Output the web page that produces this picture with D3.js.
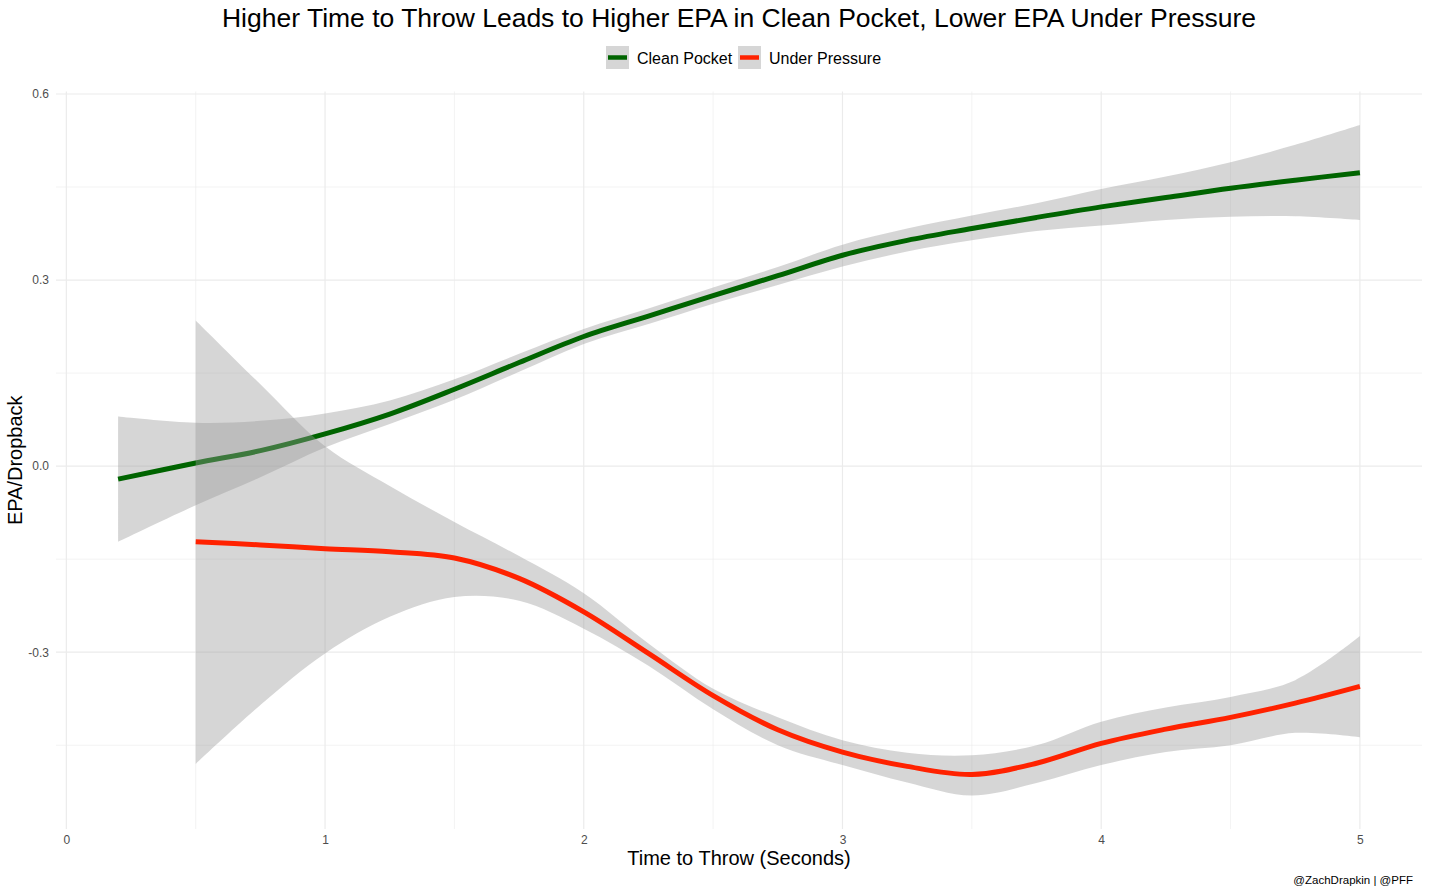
<!DOCTYPE html>
<html>
<head>
<meta charset="utf-8">
<script src="https://cdn.jsdelivr.net/npm/d3@7"></script>
<style>
  body { margin: 0; background: #fff; }
  svg { display: block; font-family: "Liberation Sans", Arial, sans-serif; }
</style>
</head>
<body>
<svg width="1430" height="894"></svg>
<script>
// smoothed EPA per dropback
var cleanX = [0.2, 0.5, 0.75, 1, 1.25, 1.5, 1.75, 2, 2.25, 2.5, 2.75, 3, 3.25, 3.5, 3.75, 4, 4.25, 4.5, 4.75, 5];
var cleanEpa = [-0.021, 0.005, 0.025, 0.052, 0.084, 0.124, 0.167, 0.209, 0.242, 0.275, 0.307, 0.340, 0.364, 0.383, 0.401, 0.418, 0.433, 0.448, 0.461, 0.473];
var cleanHi = [0.080, 0.070, 0.073, 0.085, 0.106, 0.140, 0.181, 0.221, 0.254, 0.288, 0.321, 0.357, 0.383, 0.404, 0.424, 0.447, 0.467, 0.490, 0.518, 0.550];
var cleanLo = [-0.122, -0.063, -0.018, 0.030, 0.068, 0.107, 0.152, 0.197, 0.229, 0.262, 0.292, 0.322, 0.346, 0.364, 0.379, 0.388, 0.397, 0.402, 0.403, 0.397];

var pressX = [0.5, 0.75, 1, 1.25, 1.5, 1.75, 2, 2.25, 2.5, 2.75, 3, 3.25, 3.5, 3.75, 4, 4.25, 4.5, 4.75, 5];
var pressEpa = [-0.122, -0.127, -0.133, -0.138, -0.148, -0.181, -0.235, -0.302, -0.370, -0.425, -0.461, -0.484, -0.497, -0.479, -0.447, -0.424, -0.405, -0.382, -0.355];
var pressHi = [0.235, 0.132, 0.032, -0.032, -0.090, -0.145, -0.205, -0.286, -0.359, -0.405, -0.442, -0.462, -0.466, -0.450, -0.412, -0.389, -0.372, -0.345, -0.274];
var pressLo = [-0.480, -0.385, -0.302, -0.243, -0.211, -0.217, -0.262, -0.322, -0.392, -0.450, -0.482, -0.510, -0.531, -0.511, -0.482, -0.461, -0.450, -0.430, -0.437];

var xTicks = [0, 1, 2, 3, 4, 5];
var xMinor = [0.5, 1.5, 2.5, 3.5, 4.5];
var yTicks = [-0.3, 0, 0.3, 0.6];
var yMinor = [-0.45, -0.15, 0.15, 0.45];

var seriesNames = ["Clean Pocket", "Under Pressure"];
var seriesColors = ["#006400", "#ff2200"];

var svg = d3.select("svg");
var pLeft = 56, pRight = 1422, pTop = 91.5, pBottom = 829;

var x = d3.scaleLinear().domain([-0.04, 5.24]).range([pLeft, pRight]);
var y = d3.scaleLinear().domain([-0.585, 0.604]).range([pBottom, pTop]);

// grid
var grid = svg.append("g");
grid.selectAll(".ymin").data(yMinor).enter().append("line")
    .attr("x1", pLeft).attr("x2", pRight)
    .attr("y1", d => y(d)).attr("y2", d => y(d))
    .attr("stroke", "#ebebeb").attr("stroke-width", 0.6);
grid.selectAll(".xmin").data(xMinor).enter().append("line")
    .attr("y1", pTop).attr("y2", pBottom)
    .attr("x1", d => x(d)).attr("x2", d => x(d))
    .attr("stroke", "#ebebeb").attr("stroke-width", 0.6);
grid.selectAll(".ymaj").data(yTicks).enter().append("line")
    .attr("x1", pLeft).attr("x2", pRight)
    .attr("y1", d => y(d)).attr("y2", d => y(d))
    .attr("stroke", "#ebebeb").attr("stroke-width", 1.2);
grid.selectAll(".xmaj").data(xTicks).enter().append("line")
    .attr("y1", pTop).attr("y2", pBottom)
    .attr("x1", d => x(d)).attr("x2", d => x(d))
    .attr("stroke", "#ebebeb").attr("stroke-width", 1.2);

// axes (labels only)
var xAxis = svg.append("g").attr("transform", "translate(0," + (pBottom + 3) + ")")
    .call(d3.axisBottom(x).tickValues(xTicks).tickSize(0).tickFormat(d3.format("d")));
var yAxis = svg.append("g").attr("transform", "translate(" + (pLeft - 4) + ",0)")
    .call(d3.axisLeft(y).tickValues(yTicks).tickSize(0).tickFormat(d => d.toFixed(1)));
[xAxis, yAxis].forEach(function(a) {
  a.select(".domain").remove();
  a.selectAll("text").attr("fill", "#4d4d4d").style("font-size", "12px")
    .style("font-family", "'Liberation Sans', Arial, sans-serif");
});

// ribbons + lines
var sets = [
  { xs: cleanX, mid: cleanEpa, hi: cleanHi, lo: cleanLo },
  { xs: pressX, mid: pressEpa, hi: pressHi, lo: pressLo }
];
var smooth = d3.curveCatmullRom.alpha(0.5);
var area = d3.area().curve(smooth)
    .x(d => x(d.x)).y0(d => y(d.lo)).y1(d => y(d.hi));
var line = d3.line().curve(smooth)
    .x(d => x(d.x)).y(d => y(d.v));

sets.forEach(function(s, i) {
  var pts = s.xs.map((v, j) => ({ x: v, v: s.mid[j], hi: s.hi[j], lo: s.lo[j] }));
  svg.append("path").datum(pts).attr("d", area)
    .attr("fill", "#999999").attr("fill-opacity", 0.4);
  svg.append("path").datum(pts).attr("d", line)
    .attr("fill", "none").attr("stroke", seriesColors[i]).attr("stroke-width", 5);
});

// title
svg.append("text").attr("x", (pLeft + pRight) / 2).attr("y", 27)
  .attr("text-anchor", "middle").attr("fill", "#000").style("font-size", "26.5px")
  .text("Higher Time to Throw Leads to Higher EPA in Clean Pocket, Lower EPA Under Pressure");

// legend
var legX = [606, 738];
var leg = svg.append("g");
seriesNames.forEach(function(n, i) {
  var g = leg.append("g").attr("transform", "translate(" + legX[i] + ",46)");
  g.append("rect").attr("width", 23).attr("height", 23).attr("fill", "#999999").attr("fill-opacity", 0.4);
  g.append("line").attr("x1", 2).attr("x2", 21).attr("y1", 11.5).attr("y2", 11.5)
    .attr("stroke", seriesColors[i]).attr("stroke-width", 4.5);
  g.append("text").attr("x", 31).attr("y", 18).style("font-size", "16px").attr("fill", "#000").text(n);
});

// axis titles
svg.append("text").attr("x", (pLeft + pRight) / 2).attr("y", 865)
  .attr("text-anchor", "middle").style("font-size", "20px").attr("fill", "#000")
  .text("Time to Throw (Seconds)");
svg.append("text").attr("transform", "translate(22," + ((pTop + pBottom) / 2) + ") rotate(-90)")
  .attr("text-anchor", "middle").style("font-size", "20px").attr("fill", "#000")
  .text("EPA/Dropback");

// caption
svg.append("text").attr("x", 1413).attr("y", 884)
  .attr("text-anchor", "end").style("font-size", "11.5px").attr("fill", "#000")
  .text("@ZachDrapkin | @PFF");
</script>
</body>
</html>
